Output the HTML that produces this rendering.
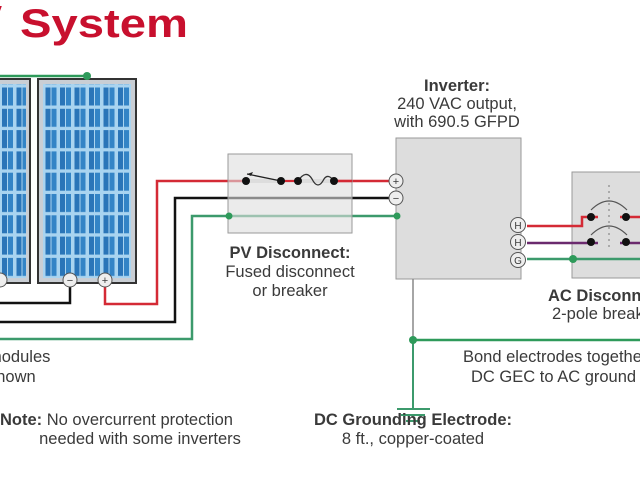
<!DOCTYPE html>
<html><head><meta charset="utf-8"><style>
html,body{margin:0;padding:0;background:#fff;width:640px;height:480px;overflow:hidden}
svg{display:block}
text{font-family:"Liberation Sans",sans-serif;fill:#3a3a3a;font-size:16.5px}
.b{font-weight:bold}
</style></head><body>
<svg width="640" height="480" viewBox="0 0 640 480">
<defs>
<pattern id="cells" x="44" y="86" width="14.5" height="21.3" patternUnits="userSpaceOnUse">
<rect width="14.5" height="21.3" fill="#a9d4f0"/>
<rect x="1.5" y="1.5" width="5" height="18" fill="#2a75b8"/>
<rect x="7.5" y="1.5" width="5" height="18" fill="#3384c6"/>
</pattern>
</defs>
<text x="20" y="37" textLength="168" lengthAdjust="spacingAndGlyphs" style="font-size:40px;font-weight:bold;fill:#c8102e">System</text>
<rect x="-5" y="6" width="9" height="8" fill="#c8102e" transform="skewX(-20)"/>
<!-- panels -->
<rect x="-20" y="79" width="50" height="204" fill="#c9ced4" stroke="#333" stroke-width="2"/>
<rect x="-16" y="84" width="42" height="194" fill="url(#cells)"/>
<rect x="38" y="79" width="98" height="204" fill="#c9ced4" stroke="#333" stroke-width="2"/>
<rect x="43" y="84" width="88" height="194" fill="url(#cells)"/>
<line x1="0" y1="76" x2="87" y2="76" stroke="#2e9a5a" stroke-width="2.5"/>
<circle cx="87" cy="76" r="4" fill="#2e9a5a"/>
<!-- wires -->
<polyline points="0,303 70,303 70,284" fill="none" stroke="#111" stroke-width="2.5"/>
<polyline points="105,284 105,304 157,304 157,181 395,181" fill="none" stroke="#d42a35" stroke-width="2.5"/>
<polyline points="0,322 175,322 175,198 395,198" fill="none" stroke="#111" stroke-width="2.5"/>
<polyline points="0,339 192,339 192,216 397,216" fill="none" stroke="#3c9a6c" stroke-width="2.5"/>
<!-- PV disconnect -->
<rect x="228" y="154" width="124" height="79" fill="#ddd" fill-opacity="0.6" stroke="#999"/>
<line x1="246" y1="181" x2="281" y2="181" stroke="#ddd" stroke-width="4"/>
<line x1="281" y1="181" x2="298" y2="181" stroke="#d42a35" stroke-width="2"/>
<line x1="298" y1="181" x2="334" y2="181" stroke="#ddd" stroke-width="4"/>
<line x1="334" y1="181" x2="352" y2="181" stroke="#d42a35" stroke-width="2.5"/>
<line x1="247" y1="174" x2="281" y2="181" stroke="#222" stroke-width="1.3"/>
<path d="M247,174 l6,-2 l-2,4z" fill="#222"/>
<path d="M298,181 q8,-12 14,-2 q6,12 12,0 q4,-6 10,2" fill="none" stroke="#333" stroke-width="1.3"/>
<circle cx="246" cy="181" r="4" fill="#111"/><circle cx="281" cy="181" r="4" fill="#111"/>
<circle cx="298" cy="181" r="4" fill="#111"/><circle cx="334" cy="181" r="4" fill="#111"/>
<circle cx="229" cy="216" r="3.5" fill="#2e9a5a"/>
<text x="290" y="258" text-anchor="middle" class="b">PV Disconnect:</text>
<text x="290" y="277" text-anchor="middle">Fused disconnect</text>
<text x="290" y="296" text-anchor="middle">or breaker</text>
<!-- inverter -->
<text x="457" y="91" text-anchor="middle" class="b">Inverter:</text>
<text x="457" y="109" text-anchor="middle">240 VAC output,</text>
<text x="457" y="127" text-anchor="middle">with 690.5 GFPD</text>
<rect x="396" y="138" width="125" height="141" fill="#ddd" stroke="#999"/>
<circle cx="396" cy="181" r="7" fill="#eee" stroke="#555"/><text x="396" y="185" text-anchor="middle" style="font-size:11px">+</text>
<circle cx="396" cy="198" r="7" fill="#eee" stroke="#555"/><text x="396" y="202" text-anchor="middle" style="font-size:11px">−</text>
<circle cx="397" cy="216" r="3.5" fill="#2e9a5a"/>
<!-- AC disconnect -->
<rect x="572" y="172" width="80" height="106" fill="#ddd" stroke="#999"/>
<polyline points="527,226 582,226 582,217 640,217" fill="none" stroke="#d42a35" stroke-width="2.5"/>
<line x1="527" y1="243" x2="640" y2="243" stroke="#6b2a6e" stroke-width="2.5"/>
<line x1="527" y1="259" x2="640" y2="259" stroke="#3c9a6c" stroke-width="2.5"/>
<line x1="598" y1="217" x2="620" y2="217" stroke="#ddd" stroke-width="4"/>
<line x1="598" y1="243" x2="620" y2="243" stroke="#ddd" stroke-width="4"/>
<path d="M591,210 q18,-18 36,0 M591,235 q18,-18 36,0" fill="none" stroke="#555" stroke-width="1.2"/>
<line x1="609" y1="185" x2="609" y2="248" stroke="#777" stroke-dasharray="2,4"/>
<circle cx="591" cy="217" r="4" fill="#111"/><circle cx="626" cy="217" r="4" fill="#111"/>
<circle cx="591" cy="242" r="4" fill="#111"/><circle cx="626" cy="242" r="4" fill="#111"/>
<circle cx="573" cy="259" r="4" fill="#2e9a5a"/>
<circle cx="518" cy="225" r="7.5" fill="#eee" stroke="#555"/><text x="518" y="229" text-anchor="middle" style="font-size:10px">H</text>
<circle cx="518" cy="242" r="7.5" fill="#eee" stroke="#555"/><text x="518" y="246" text-anchor="middle" style="font-size:10px">H</text>
<circle cx="518" cy="260" r="7.5" fill="#eee" stroke="#555"/><text x="518" y="264" text-anchor="middle" style="font-size:10px">G</text>
<text x="548" y="301" class="b">AC Disconnect:</text>
<text x="552" y="319">2-pole breaker</text>
<!-- panel terminals -->
<circle cx="0" cy="280" r="7" fill="#eee" stroke="#555"/>
<circle cx="70" cy="280" r="7" fill="#eee" stroke="#555"/><text x="70" y="284" text-anchor="middle" style="font-size:11px">−</text>
<circle cx="105" cy="280" r="7" fill="#eee" stroke="#555"/><text x="105" y="284" text-anchor="middle" style="font-size:11px">+</text>
<!-- grounding -->
<line x1="413" y1="279" x2="413" y2="340" stroke="#888" stroke-width="1.5"/>
<line x1="413" y1="340" x2="413" y2="408" stroke="#3c9a6c" stroke-width="2"/>
<line x1="413" y1="340" x2="640" y2="340" stroke="#2e9a5a" stroke-width="2.5"/>
<circle cx="413" cy="340" r="4" fill="#2e9a5a"/>
<line x1="397" y1="409" x2="430" y2="409" stroke="#3c9a6c" stroke-width="2"/>
<line x1="401" y1="415" x2="425" y2="415" stroke="#3c9a6c" stroke-width="2"/>
<line x1="406" y1="421" x2="420" y2="421" stroke="#3c9a6c" stroke-width="2"/>
<text x="463" y="362">Bond electrodes together:</text>
<text x="471" y="382">DC GEC to AC ground</text>
<text x="-12" y="362">modules</text>
<text x="-12" y="382">shown</text>
<text x="0" y="425"><tspan class="b">Note:</tspan> No overcurrent protection</text>
<text x="140" y="444" text-anchor="middle">needed with some inverters</text>
<text x="413" y="425" text-anchor="middle" class="b">DC Grounding Electrode:</text>
<text x="413" y="444" text-anchor="middle">8 ft., copper-coated</text>
</svg>
</body></html>
